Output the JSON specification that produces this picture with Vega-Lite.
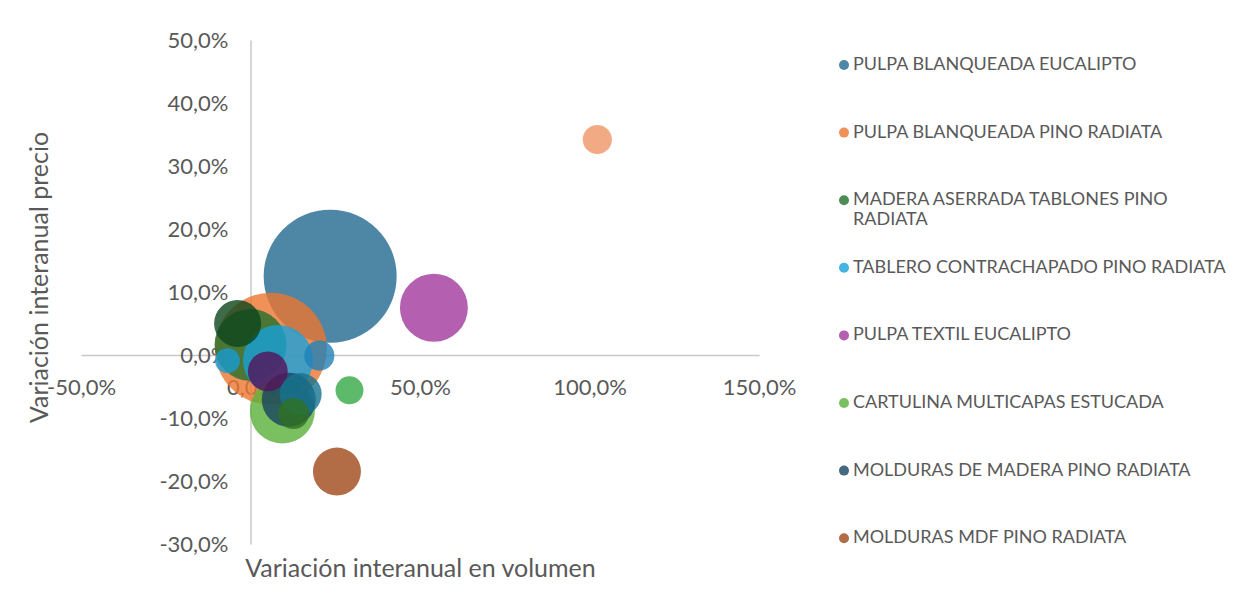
{
  "$schema": "https://vega.github.io/schema/vega-lite/v6.json",
  "width": 678,
  "height": 504,
  "autosize": {"type": "none"},
  "padding": {"left": 81, "top": 40, "right": 489, "bottom": 69},
  "background": "white",
  "config": {
    "locale": {"number": {"decimal": ",", "thousands": ".", "grouping": [3], "currency": ["", " €"], "minus": "-"}},
    "view": {"stroke": null},
    "font": "Lato"
  },
  "data": {
    "values": [
      {"serie": "PULPA BLANQUEADA EUCALIPTO", "volumen": 0.235, "precio": 0.125, "tamano": 1000, "orden": 1},
      {"serie": "PULPA BLANQUEADA PINO RADIATA", "volumen": 0.060, "precio": 0.010, "tamano": 709, "orden": 2},
      {"serie": "MADERA ASERRADA TABLONES PINO RADIATA", "volumen": 0.000, "precio": 0.016, "tamano": 293, "orden": 3},
      {"serie": "TABLERO CONTRACHAPADO PINO RADIATA", "volumen": 0.081, "precio": -0.008, "tamano": 277, "orden": 4},
      {"serie": "PULPA TEXTIL EUCALIPTO", "volumen": 0.541, "precio": 0.075, "tamano": 261, "orden": 5},
      {"serie": "CARTULINA MULTICAPAS ESTUCADA", "volumen": 0.094, "precio": -0.089, "tamano": 239, "orden": 6},
      {"serie": "MOLDURAS DE MADERA PINO RADIATA", "volumen": 0.113, "precio": -0.071, "tamano": 165, "orden": 7},
      {"serie": "MOLDURAS MDF PINO RADIATA", "volumen": 0.255, "precio": -0.185, "tamano": 130, "orden": 8},
      {"serie": "SERIE 9", "volumen": -0.038, "precio": 0.050, "tamano": 125, "orden": 9},
      {"serie": "SERIE 10", "volumen": 0.203, "precio": -0.001, "tamano": 51, "orden": 10},
      {"serie": "SERIE 11", "volumen": 0.051, "precio": -0.026, "tamano": 90, "orden": 11},
      {"serie": "SERIE 13", "volumen": 0.148, "precio": -0.062, "tamano": 100, "orden": 12},
      {"serie": "SERIE 12", "volumen": 0.127, "precio": -0.093, "tamano": 54, "orden": 13},
      {"serie": "SERIE 14", "volumen": 1.023, "precio": 0.342, "tamano": 48, "orden": 14},
      {"serie": "SERIE 15", "volumen": 0.292, "precio": -0.056, "tamano": 44, "orden": 15},
      {"serie": "SERIE 16", "volumen": -0.068, "precio": -0.009, "tamano": 35, "orden": 16}
    ]
  },
  "mark": {"type": "circle", "opacity": 0.8},
  "encoding": {
    "x": {
      "field": "volumen", "type": "quantitative",
      "scale": {"domain": [-0.5, 1.5], "nice": false, "zero": false},
      "axis": {
        "orient": "bottom", "offset": -189, "format": ".1%",
        "values": [-0.5, 0, 0.5, 1, 1.5],
        "grid": false, "ticks": false, "tickSize": 0,
        "domainColor": "#C8C8C8", "domainWidth": 1.5,
        "labelColor": "#595959", "labelFontSize": 22, "labelPadding": 32,
        "labelBaseline": "middle", "labelFlush": false, "labelOverlap": false,
        "title": "Variación interanual en volumen",
        "titleColor": "#595959", "titleFontSize": 25, "titleFontWeight": "normal",
        "titleY": 213, "titleBaseline": "middle"
      }
    },
    "y": {
      "field": "precio", "type": "quantitative",
      "scale": {"domain": [-0.3, 0.5], "nice": false, "zero": false},
      "axis": {
        "orient": "left", "offset": -169.5, "format": ".1%",
        "values": [-0.3, -0.2, -0.1, 0, 0.1, 0.2, 0.3, 0.4, 0.5],
        "grid": false, "ticks": false, "tickSize": 0,
        "domainColor": "#C8C8C8", "domainWidth": 1.5,
        "labelColor": "#595959", "labelFontSize": 22, "labelPadding": 22.5,
        "labelFlush": false, "labelOverlap": false,
        "title": "Variación interanual precio",
        "titleColor": "#595959", "titleFontSize": 25, "titleFontWeight": "normal",
        "titleX": -211.5, "titleY": 237, "titleBaseline": "middle", "titleAlign": "center", "titleAngle": -90
      }
    },
    "size": {
      "field": "tamano", "type": "quantitative",
      "scale": {"domain": [0, 1000], "range": [0, 17689]},
      "legend": null
    },
    "color": {
      "field": "serie", "type": "nominal",
      "scale": {
        "domain": [
          "PULPA BLANQUEADA EUCALIPTO", "PULPA BLANQUEADA PINO RADIATA", "MADERA ASERRADA TABLONES PINO RADIATA",
          "TABLERO CONTRACHAPADO PINO RADIATA", "PULPA TEXTIL EUCALIPTO", "CARTULINA MULTICAPAS ESTUCADA",
          "MOLDURAS DE MADERA PINO RADIATA", "MOLDURAS MDF PINO RADIATA",
          "SERIE 9", "SERIE 10", "SERIE 11", "SERIE 12", "SERIE 13", "SERIE 14", "SERIE 15", "SERIE 16"
        ],
        "range": [
          "#226890", "#EC7530", "#226F2B", "#18A1DB", "#A1379B", "#59B038", "#184260", "#9F4718",
          "#0C461D", "#2081B8", "#55135A", "#2F7020", "#157390", "#EF9566", "#33A945", "#189CD3"
        ]
      },
      "legend": {
        "orient": "none", "legendX": 754, "legendY": 16,
        "values": [
          "PULPA BLANQUEADA EUCALIPTO", "PULPA BLANQUEADA PINO RADIATA", "MADERA ASERRADA TABLONES PINO RADIATA",
          "TABLERO CONTRACHAPADO PINO RADIATA", "PULPA TEXTIL EUCALIPTO", "CARTULINA MULTICAPAS ESTUCADA",
          "MOLDURAS DE MADERA PINO RADIATA", "MOLDURAS MDF PINO RADIATA"
        ],
        "title": null, "columns": 1, "gridAlign": "all", "rowPadding": 29.6, "padding": 0,
        "symbolType": "circle", "symbolSize": 100, "symbolOpacity": 0.8, "symbolStrokeWidth": 0,
        "labelFontSize": 18, "labelColor": "#595959", "labelLimit": 500, "labelOffset": 0,
        "labelBaseline": "middle",
        "labelExpr": "datum.label == 'MADERA ASERRADA TABLONES PINO RADIATA' ? ['MADERA ASERRADA TABLONES PINO', 'RADIATA'] : datum.label"
      }
    },
    "order": {"field": "orden", "type": "quantitative"}
  }
}
